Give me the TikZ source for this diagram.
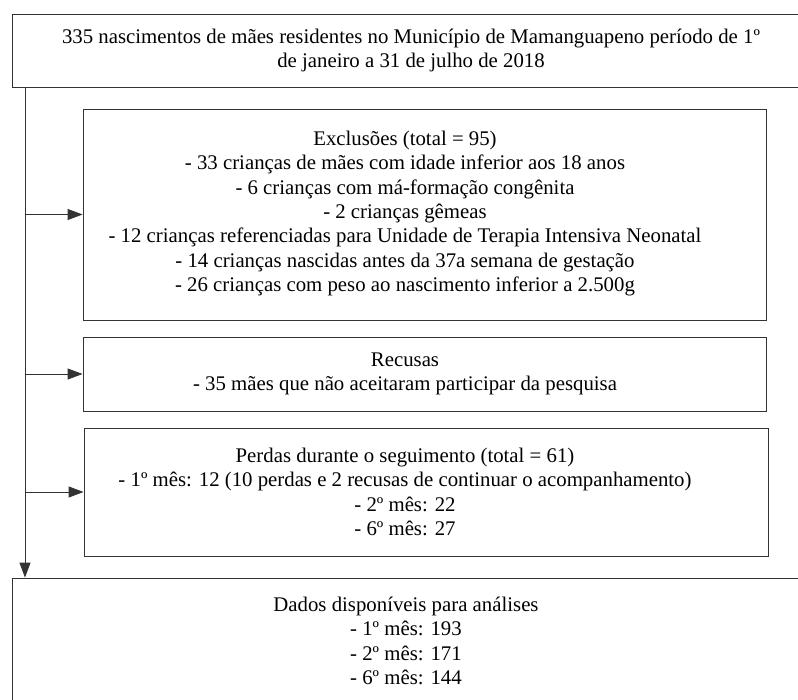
\documentclass[tikz,border=0pt]{standalone}
\usepackage{fontspec}
\setmainfont{Liberation Serif}
\usetikzlibrary{arrows.meta}
\tikzset{
	caixa/.style={draw=black!80, line width=0.8pt, inner sep=0pt, align=center, font=\fontsize{20.8}{24.4}\selectfont},
	texto/.style={align=center, inner sep=0pt, font=\fontsize{20.8}{24.4}\selectfont},
	seta/.style={draw=black!80, line width=0.8pt, -{Triangle[length=15pt,width=11pt]}}
}
\begin{document}
\begin{tikzpicture}[x=1pt,y=-1pt]
	
	\clip (0,0) rectangle (798,700);
	
	% caixas de cima e de baixo
	\node [caixa, minimum width=798, minimum height=73] (topo) at (411,50.5) {335 nascimentos de mães residentes no Município de Mamanguapeno período de 1º\\de janeiro a 31 de julho de 2018};
	
	\node [caixa, minimum width=788, minimum height=126] (base) at (406,641) {Dados disponíveis para análises\\- 1º mês: 193\\- 2º mês: 171\\- 6º mês: 144};
	
	% caixas do meio
	\node [caixa, minimum width=683, minimum height=211] (excl) at (424.5,214.5) {};
	\node [texto] (exclt) at (405,213.5) {Exclusões (total = 95)\\- 33 crianças de mães com idade inferior aos 18 anos\\- 6 crianças com má-formação congênita\\- 2 crianças gêmeas\\- 12 crianças referenciadas para Unidade de Terapia Intensiva Neonatal\\- 14 crianças nascidas antes da 37a semana de gestação\\- 26 crianças com peso ao nascimento inferior a 2.500g};
	
	\node [caixa, minimum width=683, minimum height=74] (recusa) at (424.5,374) {};
	\node [texto] (recusat) at (405,374) {Recusas\\- 35 mães que não aceitaram participar da pesquisa};
	
	\node [caixa, minimum width=684, minimum height=128] (perda) at (426,492) {};
	\node [texto] (perdat) at (405,492) {Perdas durante o seguimento (total = 61)\\- 1º mês: 12 (10 perdas e 2 recusas de continuar o acompanhamento)\\- 2º mês: 22\\- 6º mês: 27};
	
	% setas
	\coordinate (tronco) at (25,87);
	
	\draw [seta] (topo.south -| tronco) -- (base.north -| tronco);
	\draw [seta] (excl.west -| tronco) -- (excl.west);
	\draw [seta] (recusa.west -| tronco) -- (recusa.west);
	\draw [seta] (perda.west -| tronco) -- (perda.west);
	
\end{tikzpicture}
\end{document}
